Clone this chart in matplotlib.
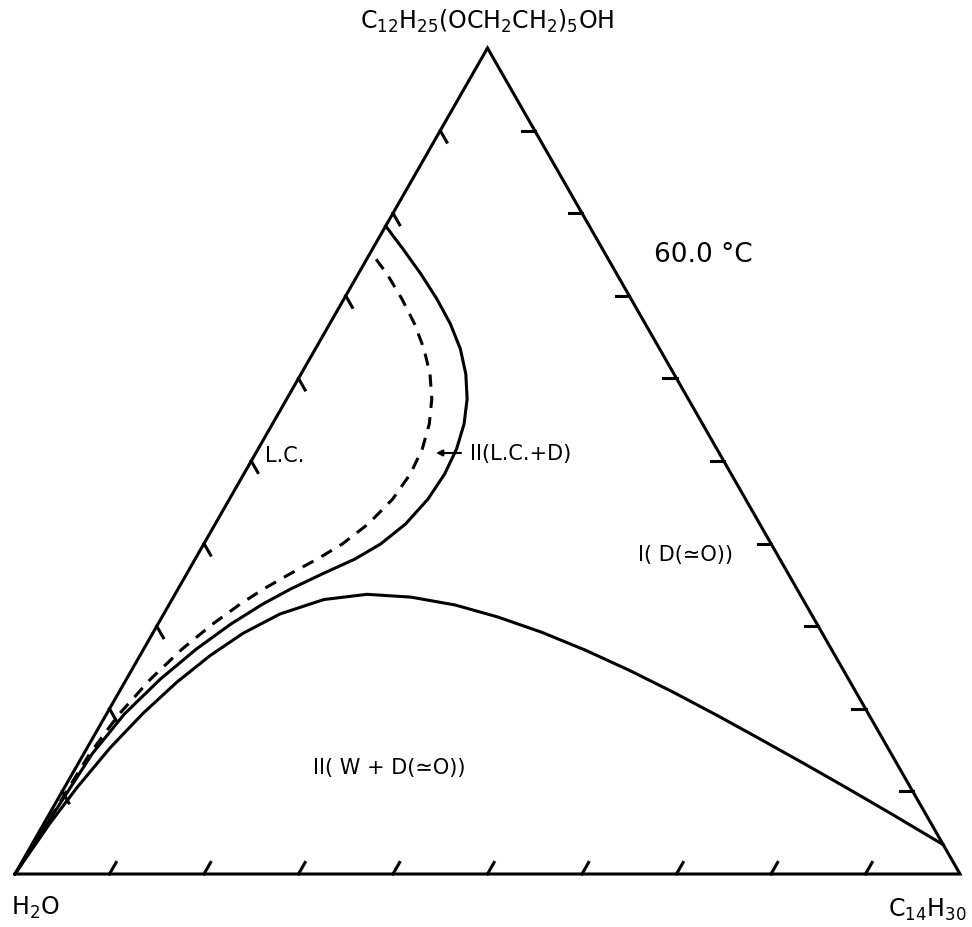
# Ternary phase diagram: H2O / C12E5 / C14H30 at 60.0 °C
import numpy as np
import matplotlib.pyplot as plt

# ---- data (weight fractions) ----
# surfactant fraction (s) and oil fraction (o); water = 1 - s - o
# lower boundary of the two-phase region W + D
lower_s = [0, 0.0614, 0.1046, 0.1525, 0.1944, 0.2323, 0.2643, 0.2914, 0.3148, 0.3323,
           0.3386, 0.3352, 0.3257, 0.3111, 0.2925, 0.2707, 0.2462, 0.2203, 0.1921,
           0.1628, 0.1337, 0.1033, 0.0724, 0.0355]
lower_o = [0, 0.0063, 0.0133, 0.0242, 0.0382, 0.0552, 0.0742, 0.0956, 0.1230, 0.1608,
           0.2032, 0.2514, 0.3028, 0.3555, 0.4115, 0.4688, 0.5277, 0.5861, 0.6468,
           0.7080, 0.7681, 0.8299, 0.8918, 0.9645]

# solid boundary of the L.C. + D region
upper_s = [0, 0.0363, 0.0908, 0.1453, 0.1937, 0.2361, 0.2724, 0.3027, 0.3269, 0.3450,
           0.3632, 0.3814, 0.3995, 0.4237, 0.4540, 0.4843, 0.5145, 0.5448, 0.5751,
           0.6053, 0.6356, 0.6659, 0.6961, 0.7264, 0.7567, 0.7845]
upper_o = [0, 0.0019, 0.0054, 0.0089, 0.0189, 0.0359, 0.0558, 0.0772, 0.0989, 0.1191,
           0.1434, 0.1692, 0.1871, 0.2014, 0.2101, 0.2125, 0.2100, 0.2028, 0.1909,
           0.1744, 0.1535, 0.1278, 0.0984, 0.0663, 0.0322, 0.0]

# dashed boundary
dash_s = [0, 0.0363, 0.0908, 0.1453, 0.1937, 0.2361, 0.2724, 0.3027, 0.3269, 0.3450,
          0.3632, 0.3814, 0.3995, 0.4237, 0.4540, 0.4843, 0.5145, 0.5448, 0.5751,
          0.6053, 0.6356, 0.6659, 0.6961, 0.7264, 0.7530]
dash_o = [0, 0.0024, 0.0043, 0.0062, 0.0134, 0.0255, 0.0407, 0.0579, 0.0750, 0.0905,
          0.1091, 0.1294, 0.1465, 0.1619, 0.1727, 0.1762, 0.1737, 0.1660, 0.1535,
          0.1365, 0.1150, 0.0899, 0.0614, 0.0305, 0.0]

tick_vals = [0.1, 0.2, 0.3, 0.4, 0.5, 0.6, 0.7, 0.8, 0.9]

corner_labels = {
    'top': r'C$_{12}$H$_{25}$(OCH$_2$CH$_2$)$_5$OH',
    'left': r'H$_2$O',
    'right': r'C$_{14}$H$_{30}$',
}
temp_label = '60.0 °C'


def tern(s, o):
    s = np.asarray(s, dtype=float)
    o = np.asarray(o, dtype=float)
    return o + s / 2, s


W, H = 972, 928
fig = plt.figure(figsize=(W / 100, H / 100), dpi=100)
ax = fig.add_axes([15 / W, 53 / H, 945 / W, 826 / H])
ax.set_xlim(0, 1)
ax.set_ylim(0, 1)
ax.axis('off')

lw = 2.2
# triangle
ax.plot([0, 1, 0.5, 0], [0, 0, 1, 0], color='black', lw=lw, clip_on=False,
        solid_joinstyle='miter')

# ticks (along ternary grid directions)
tl = 0.014
for v in tick_vals:
    # bottom edge: constant oil
    x0, y0 = tern(0, v)
    x1, y1 = tern(tl, v)
    ax.plot([x0, x1], [y0, y1], color='black', lw=lw, clip_on=False)
    # left edge: constant water
    x0, y0 = tern(v, 0)
    x1, y1 = tern(v - tl, tl)
    ax.plot([x0, x1], [y0, y1], color='black', lw=lw, clip_on=False)
    # right edge: constant surfactant
    x0, y0 = tern(v, 1 - v)
    x1, y1 = tern(v, 1 - v - tl)
    ax.plot([x0, x1], [y0, y1], color='black', lw=lw, clip_on=False)

# phase boundaries
x, y = tern(lower_s, lower_o)
ax.plot(x, y, color='black', lw=lw, solid_joinstyle='round', clip_on=False)
x, y = tern(upper_s, upper_o)
ax.plot(x, y, color='black', lw=lw, solid_joinstyle='round', clip_on=False)
x, y = tern(dash_s, dash_o)
ax.plot(x, y, color='black', lw=lw, dashes=(4, 3), clip_on=False)

# labels
ax.text(0.4995, 1.034, corner_labels['top'], ha='center', va='center', fontsize=17,
        clip_on=False)
ax.text(0.0212, -0.040, corner_labels['left'], ha='center', va='center', fontsize=17,
        clip_on=False)
ax.text(0.965, -0.042, corner_labels['right'], ha='center', va='center', fontsize=17,
        clip_on=False)
ax.text(0.728, 0.7506, temp_label, ha='center', va='center', fontsize=19)

ax.text(0.2857, 0.5073, 'L.C.', ha='center', va='center', fontsize=15)
ax.text(0.4815, 0.5097, 'II(L.C.+D)', ha='left', va='center', fontsize=15)
ax.annotate('', xy=(0.4455, 0.5097), xytext=(0.4720, 0.5097),
            arrowprops=dict(arrowstyle='-|>', lw=1.5, color='black', mutation_scale=9,
                            shrinkA=0, shrinkB=0))
ax.text(0.710, 0.3874, 'I( D(≃O))', ha='center', va='center', fontsize=15)
ax.text(0.3958, 0.1295, 'II( W + D(≃O))', ha='center', va='center', fontsize=15)

fig.savefig('out.png', dpi=100)
